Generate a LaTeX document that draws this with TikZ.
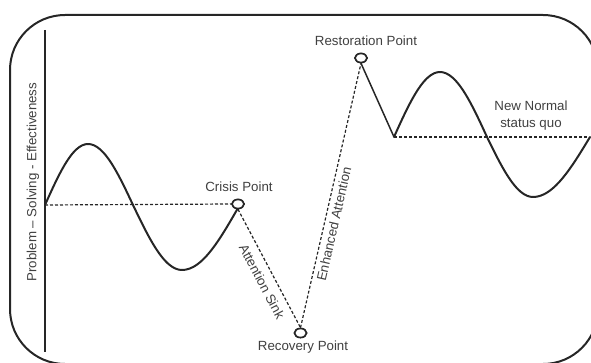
\documentclass[tikz,border=0pt]{standalone}
\usepackage{fontspec}
\setmainfont{Liberation Sans}
\usetikzlibrary{shapes.geometric}
\definecolor{ink}{HTML}{262626}
\definecolor{txt}{HTML}{404040}
\begin{document}
\begin{tikzpicture}[x=1pt,y=-1pt,
  wave/.style={draw=ink, line width=2pt, line join=round, line cap=round},
  guide/.style={draw=ink, line width=1.2pt, dash pattern=on 3pt off 2pt},
  pointmark/.style={ellipse, draw=ink, line width=1.6pt, fill=white, minimum width=12pt, minimum height=9pt, inner sep=0pt},
  lbl/.style={text=txt, font=\fontsize{13.3}{17}\selectfont, inner sep=0pt},
]
\useasboundingbox (0,0) rectangle (591,363);
\clip (0,0) rectangle (591,363);

% frame
\draw[ink, line width=2pt, rounded corners=55pt] (10,15) rectangle (598,364);

% axis
\coordinate (axtop) at (45,30);
\coordinate (axbot) at (45,352);
\draw[ink, line width=1.3pt] (axtop) -- (axbot);
\node[lbl, rotate=90] (ylab) at (33,182) {Problem – Solving - Effectiveness};

% points
\node[pointmark] (crisis) at (238,204) {};
\node[pointmark] (recovery) at (300.5,333) {};
\node[pointmark] (restore) at (361,58) {};
\coordinate (base1) at (45,205);
\coordinate (base2) at (394,137);
\coordinate (end2) at (589,137);

% first wave
\draw[wave] (base1)
  -- plot[domain=0:90, samples=16, smooth] ({45+43*\x/90},{205-61*sin(\x)})
  -- plot[domain=0:90, samples=16, smooth] ({88+45*\x/90},{205-61*cos(\x)})
  -- plot[domain=0:90, samples=16, smooth] ({133+49*\x/90},{205+65*sin(\x)})
  -- plot[domain=0:90, samples=16, smooth] ({182+56*\x/90},{208+62*cos(\x)})
  -- (crisis.south);
\draw[guide] (base1) -- (crisis.west);

% attention sink / enhanced attention
\draw[guide] (crisis.south) -- node[lbl, sloped, below=7pt, pos=0.56] (sinklbl) {Attention Sink} (recovery.north);
\draw[guide] (recovery.north) -- node[lbl, sloped, below=4pt, pos=0.4] (enhlbl) {Enhanced Attention} (restore.south);
\draw[ink, line width=1.5pt] (restore.south) -- (base2);

% second wave
\draw[wave] (base2)
  -- plot[domain=0:90, samples=16, smooth] ({394+46*\x/90},{137-65*sin(\x)})
  -- plot[domain=0:90, samples=16, smooth] ({440+47*\x/90},{137-65*cos(\x)})
  -- plot[domain=0:90, samples=16, smooth] ({487+46*\x/90},{137+60*sin(\x)})
  -- plot[domain=0:90, samples=16, smooth] ({533+57*\x/90},{137+60*cos(\x)});
\draw[guide] (base2) -- (end2);

% redraw point marks on top
\node[pointmark] at (crisis) {};
\node[pointmark] at (recovery) {};
\node[pointmark] at (restore) {};

% labels
\node[lbl] (crisislbl) at (239,187) {Crisis Point};
\node[lbl] (recoverylbl) at (303,347) {Recovery Point};
\node[lbl] (restorelbl) at (366,41) {Restoration Point};
\node[lbl, align=center] (newnormal) at (531,116) {New Normal\\status quo};
\end{tikzpicture}
\end{document}
